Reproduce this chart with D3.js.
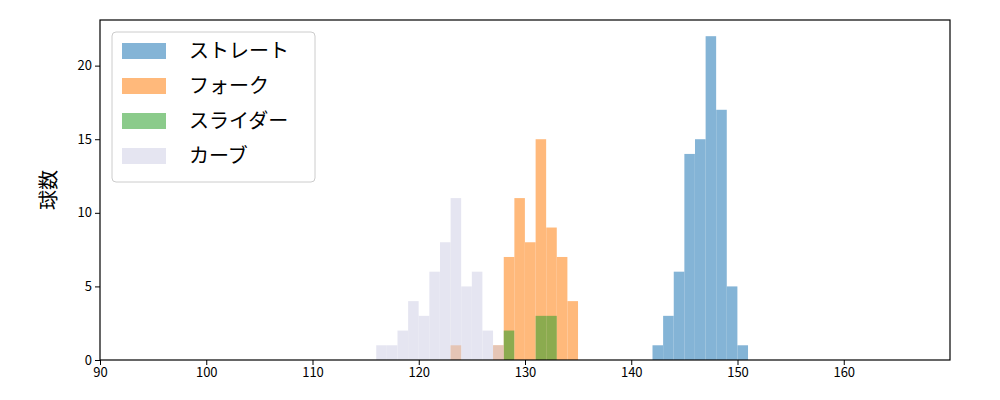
<!DOCTYPE html><html><head><meta charset="utf-8"><script src="https://d3js.org/d3.v7.min.js"></script>
<style>body{margin:0;background:#fff}text{font-family:"Noto Sans CJK JP","DejaVu Sans",sans-serif}</style></head><body><svg id="c" width="1000" height="400"></svg><script>
const seriesNames=["ストレート","フォーク","スライダー","カーブ"];
const colors=["#1f77b4","#ff7f0e","#2ca02c","#cfcfe6"];
const straightStart=[142,143,144,145,146,147,148,149,150];
const straightVals=[1,3,6,14,15,22,17,5,1];
const forkStart=[123,127,128,129,130,131,132,133,134];
const forkVals=[1,1,7,11,8,15,9,7,4];
const sliderStart=[128,131,132];
const sliderVals=[2,3,3];
const curveStart=[116,117,118,119,120,121,122,123,124,125,126,127];
const curveVals=[1,1,2,4,3,6,8,11,5,6,2,1];
const xTicks=[90,100,110,120,130,140,150,160];
const yTicks=[0,5,10,15,20];
const svg=d3.select("#c");
const x=d3.scaleLinear().domain([90,170]).range([100,950]);
const y=d3.scaleLinear().domain([0,23.1]).range([360,20]);
const sets=[[straightStart,straightVals],[forkStart,forkVals],[sliderStart,sliderVals],[curveStart,curveVals]];
sets.forEach(([s,v],i)=>{
 svg.append("g").selectAll("rect").data(s.map((d,j)=>[d,v[j]])).join("rect")
 .attr("x",d=>x(d[0])).attr("width",d=>x(d[0]+0.99)-x(d[0]))
 .attr("y",d=>y(d[1])).attr("height",d=>y(0)-y(d[1]))
 .attr("fill",colors[i]).attr("fill-opacity",0.55);
});
svg.append("g").attr("transform","translate(0,360)").call(d3.axisBottom(x).tickValues(xTicks).tickSize(5).tickPadding(3)).call(g=>g.select(".domain").remove()).selectAll("text").attr("font-size",13).attr("fill","#000");
svg.append("g").attr("transform","translate(100,0)").call(d3.axisLeft(y).tickValues(yTicks).tickSize(5).tickPadding(3)).call(g=>g.select(".domain").remove()).selectAll("text").attr("font-size",13).attr("fill","#000");
svg.append("rect").attr("x",100).attr("y",20).attr("width",850).attr("height",340).attr("fill","none").attr("stroke","#000").attr("stroke-width",1.2);
svg.append("text").attr("transform","translate(56,190) rotate(-90)").attr("text-anchor","middle").attr("font-size",20).text("球数");
const lg=svg.append("g");
lg.append("rect").attr("x",112).attr("y",32).attr("width",203).attr("height",150).attr("rx",4).attr("fill","#fff").attr("fill-opacity",0.8).attr("stroke","#ccc");
seriesNames.forEach((n,i)=>{
 lg.append("rect").attr("x",122).attr("y",43+i*35).attr("width",44).attr("height",16).attr("fill",colors[i]).attr("fill-opacity",0.55);
 lg.append("text").attr("x",189).attr("y",58+i*35).attr("font-size",20).text(n);
});
</script></body></html>
